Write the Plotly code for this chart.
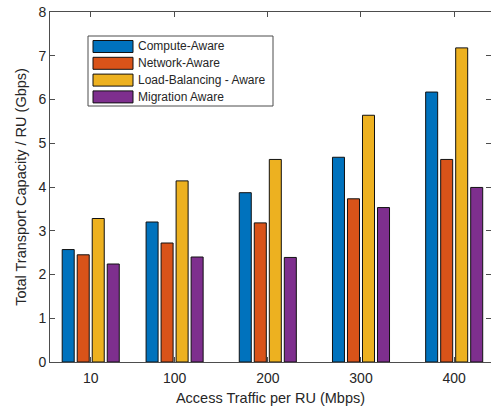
import plotly.graph_objects as go

# Access traffic per RU (Mbps) used as numeric x positions
traffic = [10, 100, 200, 300, 400]

compute_aware = [2.57, 3.20, 3.87, 4.68, 6.17]
network_aware = [2.45, 2.72, 3.18, 3.73, 4.63]
load_balancing_aware = [3.28, 4.14, 4.63, 5.64, 7.18]
migration_aware = [2.24, 2.40, 2.39, 3.53, 3.99]

series_names = ["Compute-Aware", "Network-Aware", "Load-Balancing - Aware", "Migration Aware"]
series_values = [compute_aware, network_aware, load_balancing_aware, migration_aware]
colors = ["#0072BD", "#D95319", "#EDB120", "#7E2F8E"]

W, H = 491, 411
ML, MR, MT, MB = 50, 0, 12, 49
PW, PH = W - ML - MR, H - MT - MB

FONT = "Liberation Sans, Arial, sans-serif"
TXT = "#262626"
AX = "#4d4d4d"

fig = go.Figure()
for name, vals, col in zip(series_names, series_values, colors):
    fig.add_trace(go.Bar(
        x=traffic, y=vals, name=name,
        marker=dict(color=col, line=dict(color="#111111", width=1)),
        showlegend=False,
    ))

# Hand-built legend box with wide swatches
def px_x(p):
    return (p - ML) / PW

def px_y(p):
    return (H - MB - p) / PH

shapes = [dict(type="rect", xref="paper", yref="paper",
               x0=px_x(88), x1=px_x(273), y0=px_y(106), y1=px_y(36),
               line=dict(color=AX, width=1), fillcolor="white", layer="above")]
annotations = []
row0, pitch = 46.5, 16.8
for i, (name, col) in enumerate(zip(series_names, colors)):
    cy = row0 + i * pitch
    shapes.append(dict(type="rect", xref="paper", yref="paper",
                       x0=px_x(93), x1=px_x(133), y0=px_y(cy + 6), y1=px_y(cy - 6),
                       line=dict(color="#111111", width=1), fillcolor=col, layer="above"))
    annotations.append(dict(xref="paper", yref="paper", x=px_x(135.5), y=px_y(cy),
                            text=name, showarrow=False, xanchor="left", yanchor="middle",
                            font=dict(family=FONT, size=12, color=TXT)))

fig.update_layout(
    width=W, height=H,
    margin=dict(l=ML, r=MR, t=MT, b=MB, pad=0),
    paper_bgcolor="white", plot_bgcolor="white",
    barmode="group", bargap=0.284, bargroupgap=0.2,
    font=dict(family=FONT, size=13, color=TXT),
    shapes=shapes, annotations=annotations,
)
fig.update_xaxes(
    range=[-33.7, 439.5], tickmode="array", tickvals=traffic,
    ticktext=[str(t) for t in traffic],
    ticks="inside", ticklen=5, tickcolor=AX,
    showline=True, linecolor=AX, linewidth=1, mirror="ticks",
    showgrid=False, zeroline=False,
    tickfont=dict(size=14, color=TXT), ticklabelstandoff=3,
    title=dict(text="Access Traffic per RU (Mbps)", font=dict(size=14.5, color=TXT), standoff=8),
)
fig.update_yaxes(
    range=[0, 8], dtick=1,
    ticks="inside", ticklen=5, tickcolor=AX,
    showline=True, linecolor=AX, linewidth=1, mirror="ticks",
    showgrid=False, zeroline=False,
    tickfont=dict(size=14, color=TXT),
    title=dict(text="Total Transport Capacity / RU (Gbps)", font=dict(size=14.5, color=TXT), standoff=8),
)

fig.write_html("out.html")
